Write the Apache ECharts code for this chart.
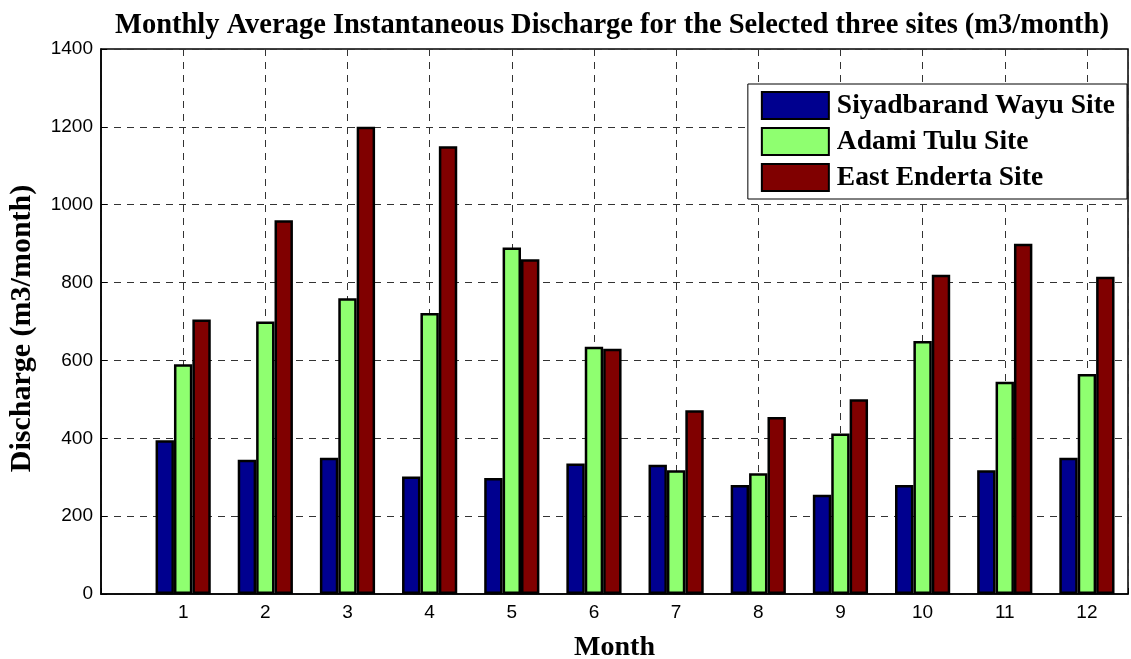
<!DOCTYPE html>
<html>
<head>
<meta charset="utf-8">
<script src="https://cdn.jsdelivr.net/npm/echarts@6/dist/echarts.min.js"></script>
<style>
html,body{margin:0;padding:0;background:#fff;}
#chart{width:1131px;height:659px;}
</style>
</head>
<body>
<div id="chart"></div>
<script>
const months = [1, 2, 3, 4, 5, 6, 7, 8, 9, 10, 11, 12];
const seriesNames = ['Siyadbarand Wayu Site', 'Adami Tulu Site', 'East Enderta Site'];
const siyadbarand = [395, 345, 350, 302, 298, 335, 332, 280, 255, 280, 318, 350];
const adamiTulu = [590, 700, 760, 722, 890, 635, 318, 310, 412, 650, 545, 565];
const eastEnderta = [705, 960, 1200, 1150, 860, 630, 472, 455, 500, 820, 900, 815];
const colors = ['#00008F', '#8FFF70', '#800000'];

const allValues = [siyadbarand, adamiTulu, eastEnderta];
const serif = '"Liberation Serif", "Times New Roman", serif';
const sans = '"Liberation Sans", Arial, sans-serif';

const chart = echarts.init(document.getElementById('chart'), null, {renderer: 'canvas'});
chart.setOption({
  animation: false,
  backgroundColor: '#fff',
  title: {
    text: 'Monthly Average Instantaneous Discharge for the Selected three sites (m3/month)',
    left: 115,
    top: 11,
    padding: 0,
    textStyle: {fontFamily: serif, fontWeight: 'bold', fontSize: 28.5, color: '#000'}
  },
  legend: {
    orient: 'vertical',
    right: 4,
    top: 84,
    padding: [7, 12, 7, 13],
    itemWidth: 67,
    itemHeight: 27,
    itemGap: 7,
    icon: 'rect',
    backgroundColor: '#fff',
    borderColor: '#000',
    borderWidth: 1,
    data: seriesNames,
    textStyle: {fontFamily: serif, fontWeight: 'bold', fontSize: 27.5, color: '#000', padding: [0, 0, 0, 3]}
  },
  grid: {
    left: 101, right: 3, top: 49, bottom: 65,
    outerBoundsMode: 'none',
    show: true, borderColor: '#000', borderWidth: 1.5, backgroundColor: '#fff'
  },
  xAxis: {
    type: 'value',
    min: 0, max: 12.5, interval: 1,
    name: 'Month',
    nameLocation: 'middle',
    nameGap: 40,
    nameTextStyle: {fontFamily: serif, fontWeight: 'bold', fontSize: 28, color: '#000'},
    axisLine: {show: true, onZero: false, lineStyle: {color: '#000', width: 1.5}},
    axisTick: {show: true, inside: true, length: 6, lineStyle: {color: '#000'}},
    axisLabel: {
      fontFamily: sans, fontSize: 19, color: '#000', margin: 9,
      formatter: v => (Number.isInteger(v) && v >= 1 && v <= 12) ? String(v) : ''
    },
    splitLine: {show: true, lineStyle: {color: '#333', type: [7, 6], width: 1}}
  },
  yAxis: {
    type: 'value',
    min: 0, max: 1400, interval: 200,
    name: 'Discharge (m3/month)',
    nameLocation: 'middle',
    nameGap: 64,
    nameTextStyle: {fontFamily: serif, fontWeight: 'bold', fontSize: 30, color: '#000', padding: [0, 14, 0, 0]},
    axisLine: {show: true, lineStyle: {color: '#000', width: 1.5}},
    axisTick: {show: true, inside: true, length: 6, lineStyle: {color: '#000'}},
    axisLabel: {fontFamily: sans, fontSize: 19, color: '#000', margin: 8, formatter: v => String(v)},
    splitLine: {show: true, lineStyle: {color: '#333', type: [7, 6], width: 1}}
  },
  series: seriesNames.map((name, i) => ({
    name: name,
    type: 'bar',
    barWidth: 18.4,
    barGap: '0%',
    data: months.map((m, j) => [m, allValues[i][j]]),
    itemStyle: {color: colors[i], borderColor: '#000', borderWidth: 2.5}
  }))
});
</script>
</body>
</html>
